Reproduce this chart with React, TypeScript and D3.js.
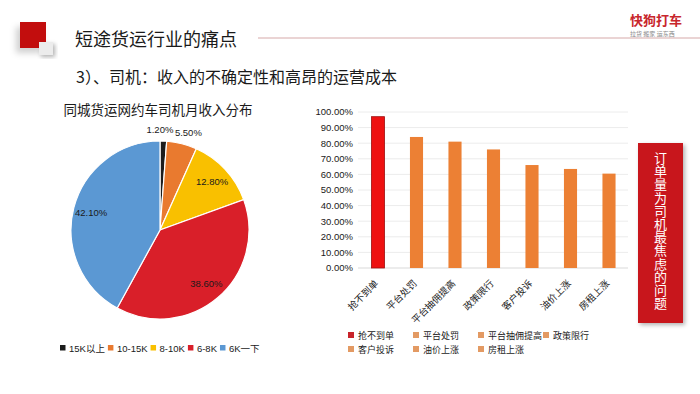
import React, { useRef, useEffect } from "react";
import * as d3 from "d3";

// pie: monthly income distribution of drivers
const pieLabels = ["15K以上", "10-15K", "8-10K", "6-8K", "6K一下"];
const pieValues = [1.2, 5.5, 12.8, 38.6, 42.1];
const pieColors = ["#1c1c1c", "#e97a2f", "#f9c000", "#d91f29", "#5b98d3"];

// bars: drivers' worries
const barCategories = ["抢不到单", "平台处罚", "平台抽佣提高", "政策限行", "客户投诉", "油价上涨", "房租上涨"];
const barValues = [0.97, 0.84, 0.81, 0.76, 0.66, 0.635, 0.605];

const sideNote = "订单量为司机最焦虑的问题";

const CJK = "'Noto Sans CJK SC', 'Noto Sans', sans-serif";
const LATIN = "'Liberation Sans', Arial, 'Noto Sans CJK SC', sans-serif";

export default function App() {
  const svgRef = useRef<SVGSVGElement>(null);

  useEffect(() => {
    const svg = d3.select(svgRef.current);
    svg.selectAll("*").remove();

    const defs = svg.append("defs");
    const sh = defs.append("filter").attr("id", "shadow").attr("x", "-30%").attr("y", "-30%").attr("width", "160%").attr("height", "160%");
    sh.append("feDropShadow").attr("dx", 2).attr("dy", 2).attr("stdDeviation", 2).attr("flood-opacity", 0.3);
    const sh2 = defs.append("filter").attr("id", "shadow2").attr("x", "-80%").attr("y", "-30%").attr("width", "200%").attr("height", "200%");
    sh2.append("feDropShadow").attr("dx", -4).attr("dy", 5).attr("stdDeviation", 3).attr("flood-opacity", 0.18);

    // ---- header ----
    svg.append("rect").attr("x", 20).attr("y", 22).attr("width", 26).attr("height", 26)
      .attr("fill", "#c20c10").attr("filter", "url(#shadow2)");
    svg.append("rect").attr("x", 39).attr("y", 42).attr("width", 14).attr("height", 13)
      .attr("fill", "#ececec").attr("filter", "url(#shadow)");
    svg.append("text").attr("x", 75).attr("y", 46).text("短途货运行业的痛点")
      .style("font-family", CJK).style("font-size", "18px").attr("fill", "#1a1a1a");
    svg.append("line").attr("x1", 258).attr("x2", 700).attr("y1", 38).attr("y2", 38)
      .attr("stroke", "#d6a9a9").attr("stroke-width", 1);
    svg.append("text").attr("x", 630).attr("y", 25).text("快狗打车")
      .style("font-family", CJK).style("font-size", "13px").style("font-weight", "bold").attr("fill", "#c8262c");
    svg.append("text").attr("x", 630).attr("y", 36).text("拉货 搬家 运东西")
      .style("font-family", CJK).style("font-size", "6px").attr("fill", "#888");
    svg.append("text").attr("x", 76).attr("y", 83).text("3）、司机：收入的不确定性和高昂的运营成本")
      .style("font-family", CJK).style("font-size", "16px").attr("fill", "#1a1a1a");

    // ---- pie ----
    svg.append("text").attr("x", 158).attr("y", 115).attr("text-anchor", "middle")
      .text("同城货运网约车司机月收入分布")
      .style("font-family", CJK).style("font-size", "13.5px").attr("fill", "#1a1a1a");

    const cx = 160, cy = 230, r = 89;
    const pieG = svg.append("g").attr("transform", `translate(${cx},${cy})`);
    const arcs = d3.pie<number>().sort(null)(pieValues);
    const arc = d3.arc<d3.PieArcDatum<number>>().innerRadius(0).outerRadius(r);
    pieG.selectAll("path").data(arcs).join("path")
      .attr("d", arc)
      .attr("fill", (_, i) => pieColors[i])
      .attr("stroke", "#fff").attr("stroke-width", 1.2);
    const labs = pieG.selectAll("text.lab").data(arcs).join("text")
      .attr("class", "lab")
      .each(function (d) {
        const rr = d.data < 10 ? r + 11 : r * 0.8;
        const a = (d.startAngle + d.endAngle) / 2;
        d3.select(this).attr("x", Math.sin(a) * rr).attr("y", -Math.cos(a) * rr);
      })
      .attr("text-anchor", "middle").attr("dy", "0.35em")
      .text(d => d.data.toFixed(2) + "%")
      .style("font-family", LATIN).style("font-size", "9.5px").attr("fill", "#1a1a1a");
    // nudge the two small outside labels apart so they just touch
    const ln = labs.nodes() as SVGTextElement[];
    const b0 = ln[0].getBBox(), b1 = ln[1].getBBox();
    const over = b0.x + b0.width - b1.x;
    if (over > 0) {
      ln[0].setAttribute("x", String(+ln[0].getAttribute("x")! - over / 2 - 0.5));
      ln[1].setAttribute("x", String(+ln[1].getAttribute("x")! + over / 2 + 0.5));
    }

    // pie legend
    let lx = 60;
    pieLabels.forEach((lab, i) => {
      svg.append("rect").attr("x", lx).attr("y", 345).attr("width", 5.5).attr("height", 5.5).attr("fill", pieColors[i]);
      const t = svg.append("text").attr("x", lx + 9).attr("y", 351.5).text(lab)
        .style("font-family", LATIN).style("font-size", "9.5px").attr("fill", "#1a1a1a");
      lx += 9 + (t.node() as SVGTextElement).getComputedTextLength() + 3;
    });

    // ---- bar chart ----
    const x = d3.scaleBand<string>().domain(barCategories).range([358.75, 628.25])
      .paddingInner(0.66).paddingOuter(0.33);
    const y = d3.scaleLinear().domain([0, 1]).range([268, 112]);
    const ticks = y.ticks(10);
    const fmt = d3.format(".2%");

    svg.append("g").selectAll("line").data(ticks).join("line")
      .attr("x1", 358).attr("x2", 628)
      .attr("y1", d => y(d)).attr("y2", d => y(d))
      .attr("stroke", (d) => (d === 0 ? "#d9d9d9" : "#ececec")).attr("stroke-width", 1);
    svg.append("g").selectAll("text").data(ticks).join("text")
      .attr("x", 353).attr("y", d => y(d)).attr("dy", "0.35em").attr("text-anchor", "end")
      .text(d => fmt(d))
      .style("font-family", LATIN).style("font-size", "9.5px").attr("fill", "#1a1a1a");

    svg.append("g").selectAll("rect").data(barValues).join("rect")
      .attr("x", (_, i) => x(barCategories[i])!)
      .attr("width", x.bandwidth())
      .attr("y", d => y(d))
      .attr("height", d => y(0) - y(d))
      .attr("fill", (_, i) => (i === 0 ? "#ee1111" : "#ec8034"))
      .attr("stroke", (_, i) => (i === 0 ? "#9e1010" : "none"))
      .attr("stroke-width", 0.8);

    svg.append("g").selectAll("text").data(barCategories).join("text")
      .attr("transform", d => `translate(${x(d)! + x.bandwidth() / 2 + 1},${284}) rotate(-45)`)
      .attr("text-anchor", "end")
      .text(d => d)
      .style("font-family", CJK).style("font-size", "9.5px").attr("fill", "#1a1a1a");

    // bar legend (4 columns)
    barCategories.forEach((lab, i) => {
      const col = i % 4, row = Math.floor(i / 4);
      const bx = 348 + col * 65, by = 335 + row * 14;
      svg.append("rect").attr("x", bx).attr("y", by - 3).attr("width", 6).attr("height", 6)
        .attr("fill", i === 0 ? "#c8232a" : "#e39a63");
      svg.append("text").attr("x", bx + 10).attr("y", by + 3.5).text(lab)
        .style("font-family", CJK).style("font-size", "9px").attr("fill", "#1a1a1a");
    });

    // ---- side note box ----
    svg.append("rect").attr("x", 638).attr("y", 143).attr("width", 45).attr("height", 180)
      .attr("fill", "#c8161d").attr("filter", "url(#shadow)");
    svg.append("text")
      .attr("x", 660.5).attr("y", 151.5)
      .style("writing-mode", "vertical-rl")
      .style("letter-spacing", "0.2px")
      .style("font-family", CJK).style("font-size", "13px").attr("fill", "#fff")
      .text(sideNote);
  }, []);

  return (
    <svg
      ref={svgRef}
      width={700}
      height={394}
      style={{ position: "absolute", left: 0, top: 0, background: "#fff" }}
    />
  );
}
